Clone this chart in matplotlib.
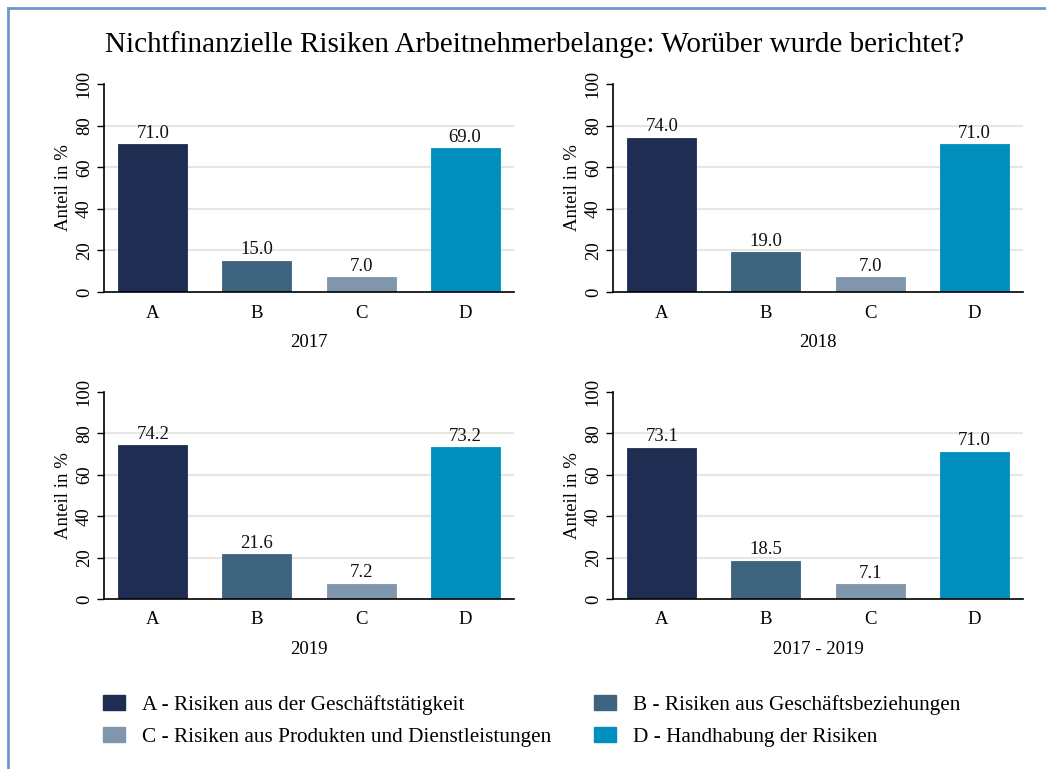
import numpy as np
import matplotlib

matplotlib.use("Agg")
from matplotlib import pyplot as plt
from matplotlib.patches import Patch
from matplotlib.lines import Line2D

plt.rcParams['font.family'] = ['Liberation Serif', 'DejaVu Serif']

categories = ['A', 'B', 'C', 'D']
legend_labels = ['A - Risiken aus der Geschäftstätigkeit',
                 'B - Risiken aus Geschäftsbeziehungen',
                 'C - Risiken aus Produkten und Dienstleistungen',
                 'D - Handhabung der Risiken']
periods = ['2017', '2018', '2019', '2017 - 2019']
share_2017 = [71.0, 15.0, 7.0, 69.0]
share_2018 = [74.0, 19.0, 7.0, 71.0]
share_2019 = [74.2, 21.6, 7.2, 73.2]
share_all = [73.1, 18.5, 7.1, 71.0]
colors = ['#1f2d52', '#3e6480', '#7f96ad', '#008ebd']

W, H = 1046, 769
fig = plt.figure(figsize=(W / 100, H / 100), dpi=100)


def px_axes(left, top, right, bottom):
    return fig.add_axes([left / W, 1 - bottom / H, (right - left) / W, (bottom - top) / H])


boxes = [(104, 84, 514, 292), (613, 84, 1023, 292),
         (104, 392, 514, 599), (613, 392, 1023, 599)]
data = [share_2017, share_2018, share_2019, share_all]

fs = 13.5
x = np.arange(len(categories))
for box, vals, period in zip(boxes, data, periods):
    ax = px_axes(*box)
    bars = ax.bar(x, vals, width=0.663, color=colors, edgecolor=colors, linewidth=0.6)
    ax.bar_label(bars, labels=['%.1f' % v for v in vals], padding=2, fontsize=fs,
                 color='#111111')
    ax.set_xlim(-0.47, 3.47)
    ax.set_ylim(0, 100)
    ax.set_yticks([0, 20, 40, 60, 80, 100])
    ax.set_xticks(x)
    ax.set_xticklabels(categories)
    ax.tick_params(axis='x', length=0, pad=9, labelsize=fs)
    ax.tick_params(axis='y', length=5, width=1, pad=3, labelsize=fs, labelrotation=90)
    for lab in ax.get_yticklabels():
        lab.set_va('center')
    ax.yaxis.grid(True, color='#e6e6e6', linewidth=1.5)
    ax.get_ygridlines()[-1].set_visible(False)
    ax.get_ygridlines()[0].set_visible(False)
    ax.set_axisbelow(True)
    for s in ['top', 'right']:
        ax.spines[s].set_visible(False)
    for s in ['left', 'bottom']:
        ax.spines[s].set_linewidth(1.2)
    ax.set_ylabel('Anteil in %', fontsize=fs, labelpad=3)
    ax.set_xlabel(period, fontsize=fs, labelpad=9)

fig.text(535 / W, 1 - 45 / H, 'Nichtfinanzielle Risiken Arbeitnehmerbelange: Worüber wurde berichtet?',
         ha='center', va='center', fontsize=21)

handles = [Patch(facecolor=c, edgecolor=c) for c in colors]
order = [0, 2, 1, 3]
fig.legend([handles[i] for i in order], [legend_labels[i] for i in order],
           ncol=2, loc='upper left', bbox_to_anchor=(103 / W, 1 - 695 / H),
           frameon=False, fontsize=15.3, handlelength=1.04, handleheight=0.66,
           handletextpad=0.8, columnspacing=2.0, labelspacing=0.58,
           borderpad=0, borderaxespad=0)

# thin blue frame on the left and top edges
fig.add_artist(Line2D([8 / W, 8 / W], [0, 1 - 8 / H], transform=fig.transFigure,
                      color='#6f97cf', linewidth=2))
fig.add_artist(Line2D([8 / W, 1], [1 - 8 / H, 1 - 8 / H], transform=fig.transFigure,
                      color='#6f97cf', linewidth=2))

fig.savefig('out.png', dpi=100)
